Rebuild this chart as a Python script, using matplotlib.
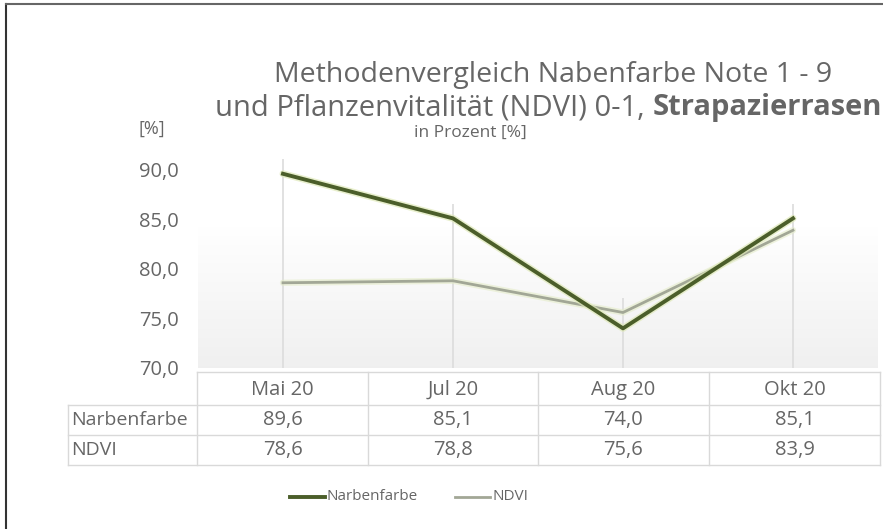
import numpy as np
import matplotlib.pyplot as plt
from matplotlib.lines import Line2D

# Daten
monate = ['Mai 20', 'Jul 20', 'Aug 20', 'Okt 20']
narbenfarbe = [89.6, 85.1, 74.0, 85.1]
ndvi = [78.6, 78.8, 75.6, 83.9]
y_ticks = [70, 75, 80, 85, 90]

W, H = 883, 529
plt.rcParams['font.family'] = ['Open Sans', 'DejaVu Sans']
txt = '#666666'
c_narbe = '#4b5e2a'
c_ndvi = '#a2a796'


def fx(x):
    return x / W


def fy(y):
    return 1 - y / H


fig = plt.figure(figsize=(W / 100, H / 100), dpi=100)

# Rahmen links/oben
fig.add_artist(Line2D([fx(6), fx(6)], [fy(4), fy(529)], color='#333333', lw=1.5))
fig.add_artist(Line2D([fx(6), fx(883)], [fy(4), fy(4)], color='#666666', lw=1.5))

# Plotbereich
ax = fig.add_axes([fx(198), fy(368), fx(878) - fx(198), fy(150) - fy(368)])
x = np.arange(len(monate))
ax.set_xlim(-0.5, 3.5)
ax.set_ylim(70, 92)

# leichter Verlauf im Hintergrund
grad = np.linspace(0, 1, 200).reshape(-1, 1)
grad = np.clip((grad - 0.35) / 0.65, 0, 1)
rgba = np.zeros((200, 1, 4))
rgba[..., :3] = 0.93
rgba[..., 3] = grad[::-1] * 0.85
ax.imshow(rgba[::-1], extent=[0, 1, 0, 1], transform=ax.transAxes,
          aspect='auto', zorder=0, origin='upper')

# Lotlinien
tops = [max(a, b) + 1.5 for a, b in zip(narbenfarbe, ndvi)]
ax.vlines(x, 70, tops, color='#dcdcdc', lw=1.2, zorder=1)

ax.plot(x, ndvi, color='#e4ecc8', lw=4.5, alpha=0.6, zorder=2, solid_capstyle='round')
ax.plot(x, ndvi, color=c_ndvi, lw=2.0, zorder=3)
ax.plot(x, narbenfarbe, color='#dfe9b8', lw=5, alpha=0.7, zorder=4, solid_capstyle='round')
ax.plot(x, narbenfarbe, color=c_narbe, lw=2.8, zorder=5)

ax.set_xticks([])
ax.set_yticks(y_ticks)
ax.set_yticklabels([f'{v:.1f}'.replace('.', ',') for v in y_ticks], color=txt, fontsize=14.5)
ax.tick_params(axis='y', length=0, pad=14)
for s in ax.spines.values():
    s.set_visible(False)

# Titel
fig.text(fx(553), fy(82), 'Methodenvergleich Nabenfarbe Note 1 - 9',
         ha='center', va='baseline', fontsize=20.5, color=txt)
t1 = fig.text(fx(215), fy(115), 'und Pflanzenvitalität (NDVI) 0-1, ',
              ha='left', va='baseline', fontsize=21, color=txt)
bb = t1.get_window_extent(fig.canvas.get_renderer())
fig.text(bb.x1 / W, fy(115), 'Strapazierrasen',
         ha='left', va='baseline', fontsize=21, color=txt, fontweight='bold')
fig.text(fx(470), fy(133), 'in Prozent [%]', ha='center', va='center', fontsize=12.5, color=txt)
fig.text(fx(152), fy(129), '[%]', ha='center', va='center', fontsize=13, color=txt)

# Datentabelle
grid_c = '#d9d9d9'
cols = [197, 368, 538, 709, 880]
rows = [372, 405, 435, 465]
for cx in cols:
    fig.add_artist(Line2D([fx(cx), fx(cx)], [fy(rows[0]), fy(rows[-1])], color=grid_c, lw=1))
fig.add_artist(Line2D([fx(68), fx(68)], [fy(rows[1]), fy(rows[-1])], color=grid_c, lw=1))
fig.add_artist(Line2D([fx(197), fx(880)], [fy(rows[0]), fy(rows[0])], color=grid_c, lw=1))
for ry in rows[1:]:
    fig.add_artist(Line2D([fx(68), fx(880)], [fy(ry), fy(ry)], color=grid_c, lw=1))

for i, m in enumerate(monate):
    cx = (cols[i] + cols[i + 1]) / 2
    fig.text(fx(cx), fy(390), m, ha='center', va='center', fontsize=14.5, color=txt)
    fig.text(fx(cx), fy(420), f'{narbenfarbe[i]:.1f}'.replace('.', ','),
             ha='center', va='center', fontsize=14.5, color=txt)
    fig.text(fx(cx), fy(450), f'{ndvi[i]:.1f}'.replace('.', ','),
             ha='center', va='center', fontsize=14.5, color=txt)
fig.text(fx(71), fy(420), 'Narbenfarbe', ha='left', va='center', fontsize=14, color=txt)
fig.text(fx(71), fy(450), 'NDVI', ha='left', va='center', fontsize=14, color=txt)

# Legende
fig.add_artist(Line2D([fx(290), fx(325)], [fy(497), fy(497)], color=c_narbe, lw=2.8))
fig.text(fx(327), fy(497), 'Narbenfarbe', ha='left', va='center', fontsize=11, color=txt)
fig.add_artist(Line2D([fx(455), fx(490)], [fy(497), fy(497)], color=c_ndvi, lw=2.0))
fig.text(fx(493), fy(497), 'NDVI', ha='left', va='center', fontsize=11, color=txt)

fig.savefig('out.png', dpi=100)
